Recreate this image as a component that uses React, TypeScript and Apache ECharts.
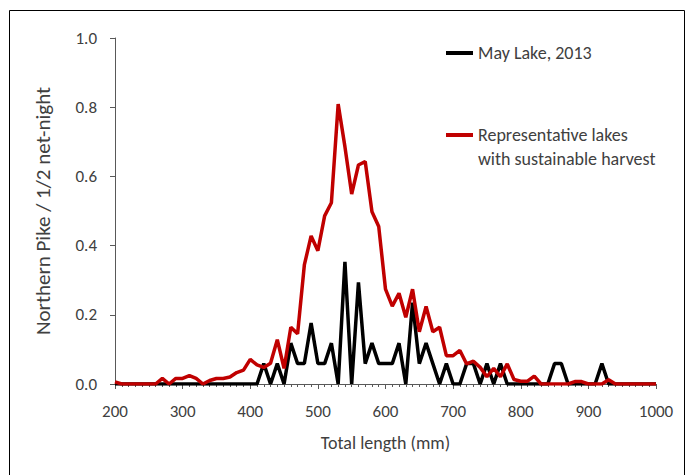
import React, { useEffect, useRef } from "react";
import * as echarts from "echarts";

const lengths = [
  200, 210, 220, 230, 240, 250, 260, 270, 280, 290,
  300, 310, 320, 330, 340, 350, 360, 370, 380, 390,
  400, 410, 420, 430, 440, 450, 460, 470, 480, 490,
  500, 510, 520, 530, 540, 550, 560, 570, 580, 590,
  600, 610, 620, 630, 640, 650, 660, 670, 680, 690,
  700, 710, 720, 730, 740, 750, 760, 770, 780, 790,
  800, 810, 820, 830, 840, 850, 860, 870, 880, 890,
  900, 910, 920, 930, 940, 950, 960, 970, 980, 990,
  1000,
];

const mayLake2013 = [
  0, 0, 0, 0, 0, 0, 0, 0, 0, 0,
  0, 0, 0, 0, 0, 0, 0, 0, 0, 0,
  0, 0, 0.059, 0, 0.059, 0, 0.118, 0.059, 0.059, 0.176,
  0.059, 0.059, 0.118, 0, 0.353, 0, 0.294, 0.059, 0.118, 0.059,
  0.059, 0.059, 0.118, 0, 0.235, 0.059, 0.118, 0.059, 0, 0.059,
  0, 0, 0.059, 0.059, 0, 0.059, 0, 0.059, 0, 0,
  0, 0, 0, 0, 0, 0.059, 0.059, 0, 0, 0,
  0, 0, 0.059, 0, 0, 0, 0, 0, 0, 0,
  0,
];

const representativeLakes = [
  0.006, 0, 0, 0, 0, 0, 0, 0.016, 0, 0.016,
  0.016, 0.024, 0.016, 0, 0.01, 0.016, 0.016, 0.02, 0.033, 0.04,
  0.071, 0.055, 0.048, 0.06, 0.128, 0.045, 0.164, 0.145, 0.344, 0.428,
  0.385, 0.486, 0.524, 0.809, 0.686, 0.549, 0.633, 0.643, 0.498, 0.455,
  0.274, 0.225, 0.262, 0.193, 0.274, 0.151, 0.224, 0.151, 0.164, 0.082,
  0.082, 0.097, 0.058, 0.066, 0.048, 0.021, 0.045, 0.021, 0.058, 0.013,
  0.008, 0.008, 0.023, 0, 0, 0, 0, 0, 0.007, 0.007,
  0, 0, 0, 0.012, 0, 0, 0, 0, 0, 0,
  0,
];

const seriesNames = ["May Lake, 2013", "Representative lakes with sustainable harvest"];
const legendLines = ["Representative lakes", "with sustainable harvest"];
const xAxisTitle = "Total length (mm)";
const yAxisTitle = "Northern Pike / 1/2 net-night";

const FONT = "Carlito, Lato, sans-serif";
const TEXT = "#404040";

export default function App() {
  const ref = useRef<HTMLDivElement>(null);

  useEffect(() => {
    if (!ref.current) return;
    const chart = echarts.init(ref.current, null, { renderer: "svg" });
    const toPairs = (ys: number[]) => lengths.map((x, i) => [x, ys[i]]);
    const legendBase = {
      left: 446,
      padding: 0,
      itemWidth: 27,
      itemHeight: 4,
      itemGap: 0,
      icon: "rect",
      textStyle: { fontFamily: FONT, fontSize: 18, color: TEXT },
    };
    chart.setOption({
      animation: false,
      backgroundColor: "#fff",
      textStyle: { fontFamily: FONT },
      grid: { left: 115, right: 30, top: 38, bottom: 91, containLabel: false },
      legend: [
        { ...legendBase, data: [seriesNames[0]], top: 44 },
        { ...legendBase, data: [seriesNames[1]], top: 126, formatter: () => legendLines[0] },
      ],
      graphic: [
        {
          type: "text",
          left: 478,
          top: 150,
          style: { text: legendLines[1], font: `18px ${FONT}`, fill: TEXT },
        },
        {
          type: "rect",
          shape: { x: 9.5, y: 10.5, width: 675, height: 480 },
          style: { fill: "none", stroke: "#000", lineWidth: 1 },
          silent: true,
        },
      ],
      xAxis: {
        type: "value",
        min: 200,
        max: 1000,
        interval: 100,
        name: xAxisTitle,
        nameLocation: "middle",
        nameGap: 50,
        nameTextStyle: { fontFamily: FONT, fontSize: 18, color: TEXT },
        axisLine: { show: true, lineStyle: { color: "#595959", width: 1 } },
        axisTick: { show: true, inside: false, length: 5, lineStyle: { color: "#595959" } },
        minorTick: { show: true, splitNumber: 10, length: 3, lineStyle: { color: "#595959" } },
        splitLine: { show: false },
        axisLabel: {
          fontFamily: FONT,
          fontSize: 17,
          color: TEXT,
          margin: 19,
          formatter: (v: number) => String(v),
        },
      },
      yAxis: {
        type: "value",
        min: 0,
        max: 1,
        interval: 0.2,
        name: yAxisTitle,
        nameLocation: "middle",
        nameGap: 62,
        nameTextStyle: { fontFamily: FONT, fontSize: 21, color: TEXT },
        axisLine: { show: true, lineStyle: { color: "#595959", width: 1 } },
        axisTick: { show: true, inside: false, length: 5, lineStyle: { color: "#595959" } },
        splitLine: { show: false },
        axisLabel: {
          fontFamily: FONT,
          fontSize: 17,
          color: TEXT,
          margin: 18,
          formatter: (v: number) => v.toFixed(1),
        },
      },
      series: [
        {
          name: seriesNames[0],
          type: "line",
          data: toPairs(mayLake2013),
          symbol: "none",
          lineStyle: { color: "#000000", width: 3.5 },
          itemStyle: { color: "#000000" },
        },
        {
          name: seriesNames[1],
          type: "line",
          data: toPairs(representativeLakes),
          symbol: "none",
          lineStyle: { color: "#C00000", width: 3.5 },
          itemStyle: { color: "#C00000" },
        },
      ],
    });
    return () => chart.dispose();
  }, []);

  return (
    <div
      ref={ref}
      style={{ position: "absolute", left: 0, top: 0, width: 686, height: 475 }}
    />
  );
}
